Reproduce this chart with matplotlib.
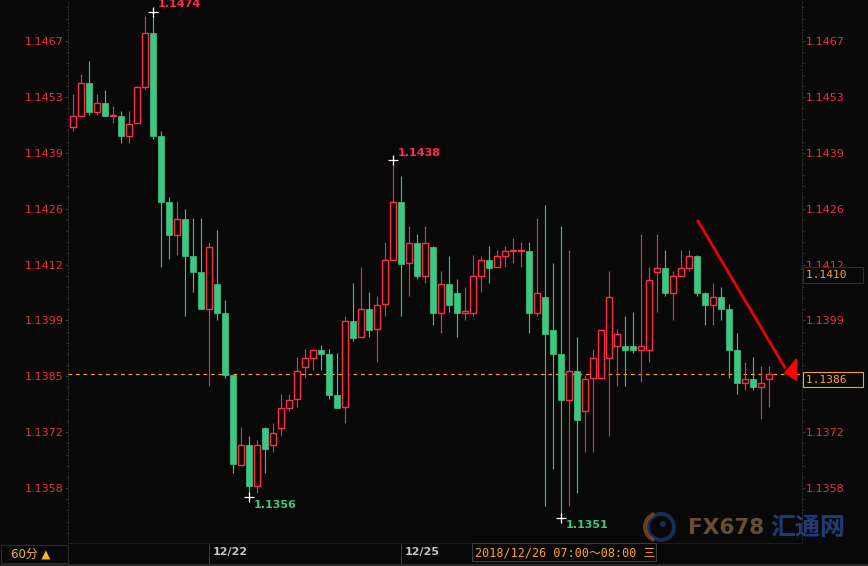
import matplotlib
matplotlib.use("Agg")
import matplotlib.pyplot as plt
import matplotlib.transforms as mtransforms
from matplotlib.patches import Rectangle, Polygon, Circle, Wedge
from matplotlib.ticker import AutoMinorLocator
import numpy as np

plt.rcParams['font.family'] = ['DejaVu Sans', 'Noto Sans CJK SC']

# EUR/USD 60 min candles
opens = [1.14460, 1.14488, 1.14567, 1.14498, 1.14518, 1.14486, 1.14487, 1.14439, 1.14469, 1.14559,
         1.14689, 1.14438, 1.14277, 1.14198, 1.14235, 1.14146, 1.14106, 1.14017, 1.14077, 1.14006,
         1.13856, 1.13637, 1.13685, 1.13586, 1.13726, 1.13686, 1.13727, 1.13776, 1.13796, 1.13876,
         1.13898, 1.13917, 1.13907, 1.13807, 1.13777, 1.13987, 1.13948, 1.14016, 1.13967, 1.14029,
         1.14137, 1.14277, 1.14128, 1.14177, 1.14098, 1.14167, 1.14008, 1.14077, 1.14056, 1.14008,
         1.14008, 1.14098, 1.14135, 1.14118, 1.14146, 1.14157, 1.14157, 1.14157, 1.14008, 1.14046,
         1.13965, 1.13907, 1.13795, 1.13865, 1.13767, 1.13848, 1.13848, 1.13898, 1.13927, 1.13926,
         1.13926, 1.13917, 1.13917, 1.14107, 1.14116, 1.14056, 1.14098, 1.14117, 1.14146, 1.14055,
         1.14027, 1.14045, 1.14016, 1.13917, 1.13837, 1.13845, 1.13827, 1.13847]
highs = [1.14541, 1.14590, 1.14621, 1.14540, 1.14550, 1.14512, 1.14499, 1.14499, 1.14560, 1.14731,
         1.14740, 1.14451, 1.14289, 1.14280, 1.14260, 1.14238, 1.14238, 1.14179, 1.14209, 1.14038,
         1.13856, 1.13729, 1.13707, 1.13697, 1.13729, 1.13738, 1.13809, 1.13809, 1.13899, 1.13919,
         1.13919, 1.13929, 1.13919, 1.13909, 1.13999, 1.14081, 1.14119, 1.14058, 1.14048, 1.14180,
         1.14380, 1.14341, 1.14219, 1.14199, 1.14219, 1.14169, 1.14109, 1.14147, 1.14090, 1.14070,
         1.14148, 1.14147, 1.14170, 1.14160, 1.14170, 1.14190, 1.14180, 1.14180, 1.14238, 1.14270,
         1.14129, 1.14219, 1.14160, 1.13948, 1.13856, 1.13919, 1.13967, 1.14109, 1.13968, 1.13999,
         1.14009, 1.14199, 1.14119, 1.14199, 1.14160, 1.14109, 1.14160, 1.14160, 1.14148, 1.14058,
         1.14081, 1.14070, 1.14029, 1.13958, 1.13887, 1.13899, 1.13878, 1.13878]
lows = [1.14451, 1.14486, 1.14490, 1.14490, 1.14487, 1.14471, 1.14422, 1.14422, 1.14469, 1.14550,
        1.14432, 1.14120, 1.14138, 1.14148, 1.14000, 1.14059, 1.14017, 1.13830, 1.13990, 1.13849,
        1.13617, 1.13637, 1.13559, 1.13569, 1.13617, 1.13668, 1.13708, 1.13767, 1.13778, 1.13849,
        1.13868, 1.13868, 1.13798, 1.13776, 1.13739, 1.13939, 1.13948, 1.13949, 1.13888, 1.14000,
        1.14137, 1.14000, 1.14049, 1.14090, 1.14081, 1.13978, 1.13959, 1.14010, 1.13949, 1.13990,
        1.14000, 1.14059, 1.14081, 1.14118, 1.14120, 1.14129, 1.14120, 1.13959, 1.13999, 1.13537,
        1.13627, 1.13506, 1.13537, 1.13569, 1.13668, 1.13668, 1.13848, 1.13708, 1.13830, 1.13830,
        1.13910, 1.13839, 1.13888, 1.14010, 1.14048, 1.13990, 1.14098, 1.14109, 1.14049, 1.13978,
        1.13978, 1.13990, 1.13849, 1.13810, 1.13820, 1.13820, 1.13749, 1.13778]
closes = [1.14486, 1.14567, 1.14498, 1.14518, 1.14488, 1.14489, 1.14439, 1.14467, 1.14557, 1.14689,
          1.14439, 1.14278, 1.14197, 1.14235, 1.14146, 1.14107, 1.14017, 1.14167, 1.14008, 1.13856,
          1.13638, 1.13685, 1.13586, 1.13685, 1.13675, 1.13713, 1.13774, 1.13794, 1.13865, 1.13896,
          1.13916, 1.13908, 1.13807, 1.13776, 1.13987, 1.13947, 1.14016, 1.13966, 1.14026, 1.14135,
          1.14277, 1.14127, 1.14177, 1.14098, 1.14177, 1.14008, 1.14077, 1.14027, 1.14008, 1.14011,
          1.14096, 1.14135, 1.14117, 1.14145, 1.14157, 1.14160, 1.14160, 1.14008, 1.14055, 1.13956,
          1.13908, 1.13795, 1.13865, 1.13747, 1.13845, 1.13896, 1.13965, 1.14045, 1.13955, 1.13917,
          1.13917, 1.13926, 1.14087, 1.14116, 1.14056, 1.14096, 1.14116, 1.14145, 1.14056, 1.14027,
          1.14045, 1.14017, 1.13917, 1.13837, 1.13845, 1.13827, 1.13835, 1.13858]

price_labels = ["1.1358", "1.1372", "1.1385", "1.1399", "1.1412", "1.1426", "1.1439", "1.1453", "1.1467"]
date_ticks = [17, 41]
date_labels = ["12/22", "12/25"]
ref_price = 1.1410
period_text = "60分 ▲"
cursor_text = "2018/12/26 07:00～08:00 三"
arrow_start = (78.0, 1.14234)
arrow_end = (89.0, 1.13872)

BG = "#080808"
RED = "#ff2d4b"
GREEN = "#3cc882"
LABEL_RED = "#e8303f"
ORANGE = "#ffa033"

fig = plt.figure(figsize=(8.68, 5.66), dpi=100, facecolor=BG)
ax = fig.add_axes([68 / 868, 23 / 566, 734 / 868, 543 / 566])
ax.set_facecolor(BG)

w = 0.8
for i in range(len(opens)):
    o, h, l, c = opens[i], highs[i], lows[i], closes[i]
    up = c >= o
    col = RED if up else GREEN
    ax.vlines(i, l, h, color=col, lw=0.8, zorder=2)
    lo, hi = min(o, c), max(o, c)
    hgt = max(hi - lo, 0.00003)
    if up:
        ax.add_patch(Rectangle((i - w / 2, lo), w, hgt, facecolor=BG, edgecolor=col, lw=1.0, zorder=3))
    else:
        ax.add_patch(Rectangle((i - w / 2, lo), w, hgt, facecolor=col, edgecolor=col, lw=0.5, zorder=3))

ax.set_xlim(-0.66, 91.09)
ax.set_ylim(1.13446, 1.14770)

# y axis on both sides
tick_vals = np.linspace(1.1358, 1.1467, len(price_labels))
ax.set_yticks(tick_vals)
ax.set_yticklabels(price_labels)
ax.yaxis.set_minor_locator(AutoMinorLocator(5))
ax.tick_params(axis='y', which='both', left=True, right=True, labelleft=True, labelright=True,
               colors='#3a3a3a', labelcolor=LABEL_RED, labelsize=8, length=2.5, pad=0.5)
ax.tick_params(axis='y', which='minor', length=1.2)
ax.set_xticks([])
for s in ['left', 'right']:
    ax.spines[s].set_color('#2a2a2a')
    ax.spines[s].set_linestyle((0, (1, 2)))
ax.spines['top'].set_visible(False)
ax.spines['bottom'].set_color('#1c1c1c')

# last price line and boxes
last = closes[-1]
ax.axhline(last, color='#ff9a2e', lw=0.9, ls=(0, (3, 3)), zorder=1)
bt = mtransforms.blended_transform_factory(ax.transAxes, ax.transData)
ax.annotate(f"{last:.4f}  ", xy=(1.0, last), xycoords=bt, xytext=(3, -4), textcoords='offset points',
            ha='left', va='center', color=ORANGE, family=['DejaVu Sans Mono'], fontsize=8,
            bbox=dict(boxstyle='square,pad=0.25', fc=BG, ec=ORANGE, lw=0.8), zorder=6,
            annotation_clip=False)
ax.annotate(f"{ref_price:.4f}  ", xy=(1.0, ref_price), xycoords=bt, xytext=(3, 0), textcoords='offset points',
            ha='left', va='center', color=ORANGE, family=['DejaVu Sans Mono'], fontsize=8,
            bbox=dict(boxstyle='square,pad=0.25', fc=BG, ec='#2e2e2e', lw=0.8), zorder=6,
            annotation_clip=False)

# high / low markers
def mark(idx, val, col, dy):
    ax.plot(idx, val, marker='+', color='white', ms=7, mew=0.9, zorder=5, clip_on=False)
    ax.annotate(f"{val:.4f}", xy=(idx, val), xytext=(3, dy), textcoords='offset points',
                color=col, fontsize=8, fontweight='bold', va='center', ha='left', zorder=5)

hi_a = int(np.argmax(highs[:30]))
hi_b = 30 + int(np.argmax(highs[30:55]))
lo_a = int(np.argmin(lows[:40]))
lo_b = 40 + int(np.argmin(lows[40:]))
mark(hi_a, highs[hi_a], RED, 6)
mark(hi_b, highs[hi_b], RED, 5)
mark(lo_a, lows[lo_a], GREEN, -6)
mark(lo_b, lows[lo_b], GREEN, -5)

# red arrow drawn on the chart
ax.plot([arrow_start[0], arrow_end[0]], [arrow_start[1], arrow_end[1]], color='#ee0000', lw=2,
        zorder=6, clip_on=False, solid_capstyle='butt')
ax.add_patch(Polygon([(88.95, 1.13861), (90.4, 1.13895), (90.4, 1.13843)], closed=True,
                     color='#ff0000', zorder=6, clip_on=False))

# date labels in the bottom strip
dt = mtransforms.blended_transform_factory(ax.transData, ax.transAxes)
for t, lab in zip(date_ticks, date_labels):
    ax.plot([t, t], [0, -0.036], transform=dt, color='#3a3a3a', lw=0.8, clip_on=False)
    ax.text(t + 0.4, -0.017, lab, transform=dt, color='#c4c4c4', fontsize=8, fontweight='bold',
            ha='left', va='center', clip_on=False)

# overlay in pixel units for the bottom bar and watermark
ov = fig.add_axes([0, 0, 1, 1], zorder=5)
ov.set_xlim(0, 868)
ov.set_ylim(566, 0)
ov.axis('off')
ov.patch.set_alpha(0)

ov.add_patch(Rectangle((0.5, 545), 67, 18, fc=BG, ec='#2c2c2c', lw=0.8))
ov.text(11, 554, period_text, color='#f5b030', fontsize=8.5, va='center', ha='left')
ov.add_patch(Rectangle((472, 543), 184, 18, fc=BG, ec='#3a3a3a', lw=0.8))
ov.text(475, 552.5, cursor_text, color='#ff9f30', fontsize=8.5, va='center', ha='left',
        family=['DejaVu Sans Mono', 'Noto Sans CJK SC'])
ov.plot([0, 868], [564.5, 564.5], color='#262626', lw=1.5)

# watermark
ov.add_patch(Wedge((661, 527), 15, 0, 360, width=4, fc='#1d3a70', alpha=0.75, zorder=0))
ov.add_patch(Wedge((659, 527), 16, 110, 250, width=4, fc='#8a4e1c', alpha=0.75, zorder=0))
ov.add_patch(Circle((663, 524), 3, fc='#1d3a70', alpha=0.75, zorder=0))
ov.text(688, 528, "FX678", color='#7c5a36', fontsize=15.5, fontweight='bold', va='center', ha='left',
        alpha=0.85, zorder=0)
ov.text(770, 528, "汇通网", color='#25468a', fontsize=18, fontweight='bold', va='center', ha='left',
        family=['Noto Sans CJK SC'], alpha=0.85, zorder=0)

fig.savefig('out.png', dpi=100, facecolor=BG)
